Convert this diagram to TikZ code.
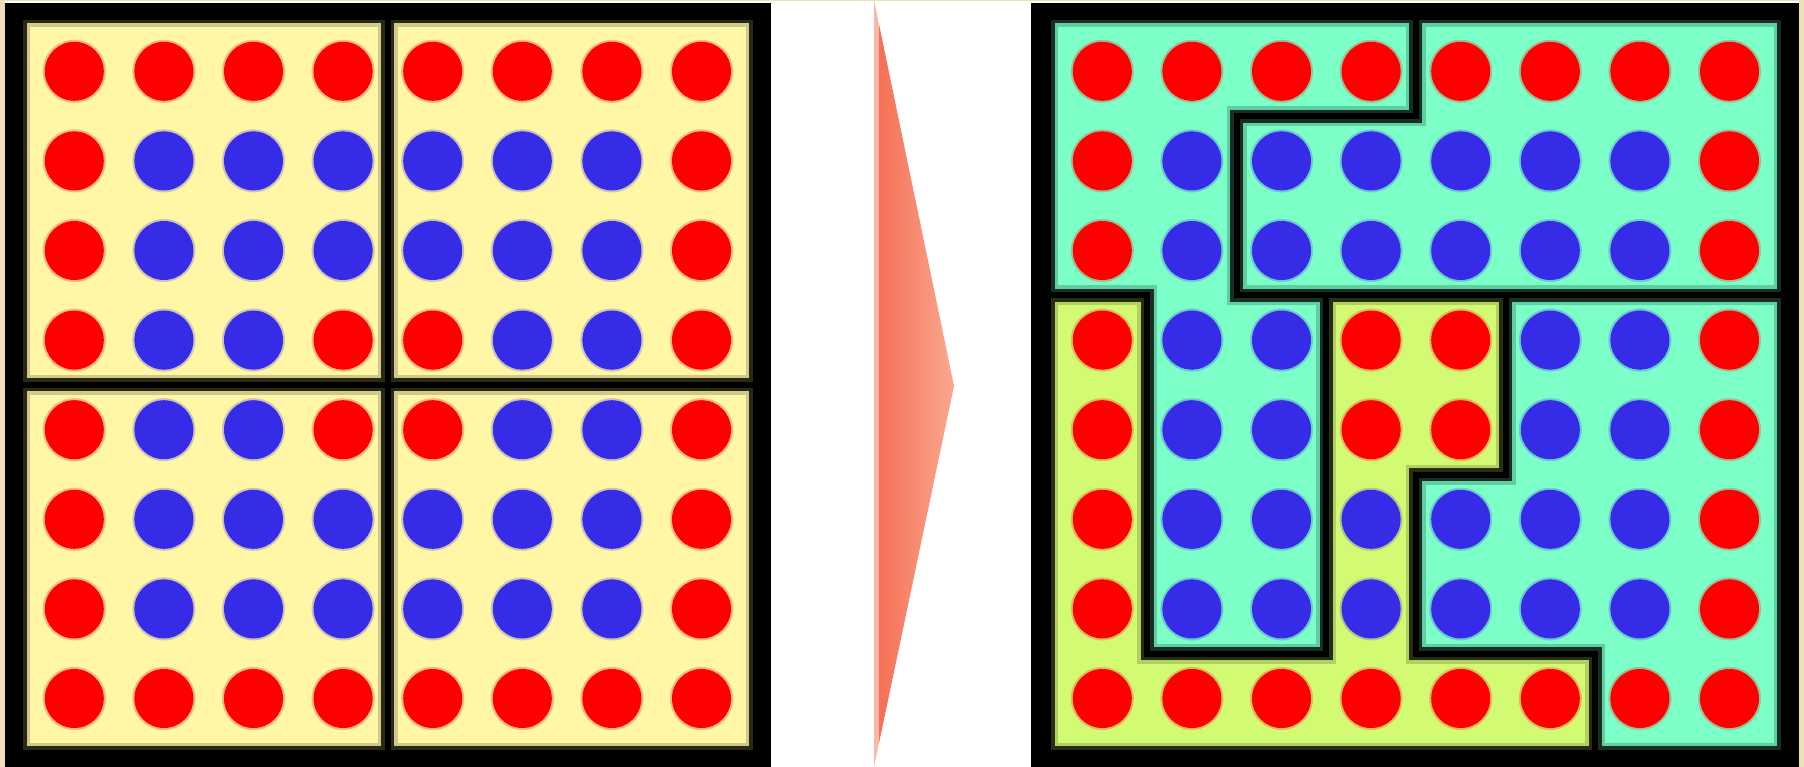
\documentclass[tikz,border=0pt]{standalone}
\definecolor{bgpaper}{RGB}{238,222,186}
\definecolor{dotred}{RGB}{255,0,0}
\definecolor{dotblue}{RGB}{54,44,232}
\definecolor{yelfill}{RGB}{255,246,166}
\definecolor{yelmid}{RGB}{207,200,136}
\definecolor{yeldark}{RGB}{42,40,22}
\definecolor{mintfill}{RGB}{125,255,200}
\definecolor{mintmid}{RGB}{96,206,160}
\definecolor{mintdark}{RGB}{24,48,36}
\definecolor{limefill}{RGB}{210,250,115}
\definecolor{limemid}{RGB}{176,208,96}
\definecolor{limedark}{RGB}{40,46,20}
\definecolor{arrowL}{RGB}{245,112,86}
\definecolor{arrowR}{RGB}{250,168,144}
\definecolor{arrowstripe}{RGB}{251,184,168}
\tikzset{
  panelframe/.style={fill=black},
  sepline/.style={draw=black, line width=6pt, line join=miter},
  dothalo/.style={opacity=0.25},
}
\newcommand{\regionfill}[4]{%
  \begin{scope}
    \clip #1;
    \fill[#2] #1;
    \draw[#3, line width=20pt] #1;
    \draw[#4, line width=13pt] #1;
  \end{scope}}
\newcommand{\dotgrid}{%
  \foreach \i in {0,...,7}{%
    \foreach \j in {0,...,7}{%
      \pgfmathtruncatemacro{\isred}{or(or(or(\i==0,\i==7),or(\j==0,\j==7)),and(or(\i==3,\i==4),or(\j==3,\j==4)))}%
      \ifnum\isred=1
        \fill[dotred,dothalo] (\i+0.5,\j+0.5) circle[radius=31.5pt];
        \fill[dotred] (\i+0.5,\j+0.5) circle[radius=29.5pt];
      \else
        \fill[dotblue,dothalo] (\i+0.5,\j+0.5) circle[radius=31.5pt];
        \fill[dotblue] (\i+0.5,\j+0.5) circle[radius=29.5pt];
      \fi
    }}}
\begin{document}
\begin{tikzpicture}[x=1pt,y=-1pt]
\useasboundingbox (0,0) rectangle (1804,767);
\fill[bgpaper] (0,0) rectangle (1804,767);
\fill[white] (5,1.5) rectangle (1799,767);
% arrow
\begin{scope}
  \clip (874,0) -- (954,386) -- (874,767) -- cycle;
  \shade[left color=arrowL,right color=arrowR] (879,0) rectangle (954,767);
  \fill[arrowstripe] (874,0) rectangle (879,767);
\end{scope}
% left panel
\fill[panelframe] (5,3) rectangle (771,767);
\begin{scope}[shift={(29.5pt,-26.5pt)}, x=89.6pt, y=-89.6pt]
  \def\lo{-0.106}\def\hi{8.106}
  \regionfill{(\lo,\lo) rectangle (4,4)}{yelfill}{yelmid}{yeldark}
  \regionfill{(4,\lo) rectangle (\hi,4)}{yelfill}{yelmid}{yeldark}
  \regionfill{(\lo,4) rectangle (4,\hi)}{yelfill}{yelmid}{yeldark}
  \regionfill{(4,4) rectangle (\hi,\hi)}{yelfill}{yelmid}{yeldark}
  \draw[sepline] (\lo,\lo) rectangle (\hi,\hi);
  \draw[sepline] (4,\lo) -- (4,\hi);
  \draw[sepline] (\lo,4) -- (\hi,4);
  \dotgrid
\end{scope}
% right panel
\fill[panelframe] (1031,3) rectangle (1799,767);
\begin{scope}[shift={(1057.5pt,-26.5pt)}, x=89.6pt, y=-89.6pt]
  \def\lo{-0.106}\def\hi{8.106}
  \def\pathA{(\lo,\lo) -- (4,\lo) -- (4,1) -- (2,1) -- (2,3) -- (3,3) -- (3,7) -- (1,7) -- (1,3) -- (\lo,3) -- cycle}
  \def\pathB{(4,\lo) -- (\hi,\lo) -- (\hi,3) -- (2,3) -- (2,1) -- (4,1) -- cycle}
  \def\pathC{(\lo,3) -- (1,3) -- (1,7) -- (3,7) -- (3,3) -- (5,3) -- (5,5) -- (4,5) -- (4,7) -- (6,7) -- (6,\hi) -- (\lo,\hi) -- cycle}
  \def\pathD{(5,3) -- (\hi,3) -- (\hi,\hi) -- (6,\hi) -- (6,7) -- (4,7) -- (4,5) -- (5,5) -- cycle}
  \regionfill{\pathA}{mintfill}{mintmid}{mintdark}
  \regionfill{\pathB}{mintfill}{mintmid}{mintdark}
  \regionfill{\pathC}{limefill}{limemid}{limedark}
  \regionfill{\pathD}{mintfill}{mintmid}{mintdark}
  \draw[sepline] \pathA;
  \draw[sepline] \pathB;
  \draw[sepline] \pathC;
  \draw[sepline] \pathD;
  \dotgrid
\end{scope}
\end{tikzpicture}
\end{document}
